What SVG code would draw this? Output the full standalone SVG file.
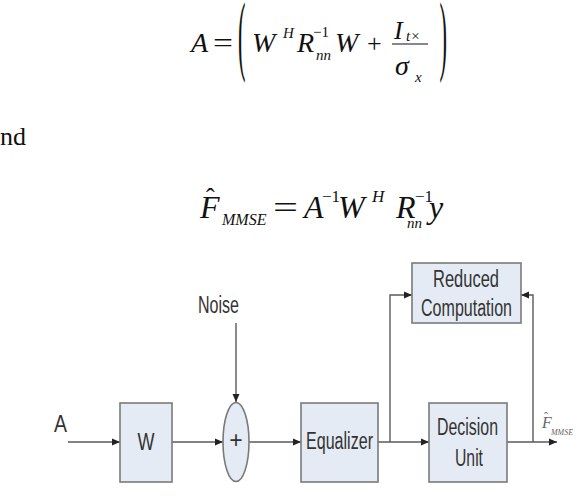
<svg xmlns="http://www.w3.org/2000/svg" width="586" height="498" viewBox="0 0 586 498">
<style>
.m{font-family:"Liberation Serif","Times New Roman",serif;font-style:italic;fill:#111}
.r{font-family:"Liberation Serif","Times New Roman",serif;fill:#111}
.box{fill:#e5ebf4;stroke:#7a7a7a;stroke-width:1.6}
.lbl{font-family:"Liberation Sans",Arial,sans-serif;font-size:23px;fill:#333;text-anchor:middle}
.con{fill:none;stroke:#5a5a5a;stroke-width:1.4}
</style>
<defs>
<marker id="ah" markerUnits="userSpaceOnUse" markerWidth="9" markerHeight="8" refX="8" refY="4" orient="auto">
<path d="M0,0.5 L8,4 L0,7.5 Z" fill="#222"/>
</marker>
</defs>
<rect width="586" height="498" fill="#fff"/>

<g id="formula1">
<text class="m" x="191" y="52" font-size="28">A</text>
<text class="r" x="213" y="52" font-size="28" textLength="20" lengthAdjust="spacingAndGlyphs">=</text>
<text class="r" transform="translate(238,64) scale(0.8,3.2)" font-size="28">(</text>
<text class="m" x="252" y="52" font-size="28">W</text>
<text class="m" x="283" y="38" font-size="15">H</text>
<text class="m" x="297" y="52" font-size="28">R</text>
<text class="r" x="313" y="37" font-size="15">−1</text>
<text class="m" x="316" y="60" font-size="15">nn</text>
<text class="m" x="335" y="52" font-size="28">W</text>
<text class="r" x="367" y="52" font-size="26">+</text>
<text class="m" x="394" y="39" font-size="26">I</text>
<text class="m" x="406" y="41" font-size="15">t×</text>
<line x1="392" y1="44" x2="428" y2="44" stroke="#111" stroke-width="1.2"/>
<text class="m" x="395" y="75" font-size="28">σ</text>
<text class="m" x="415" y="82" font-size="15">x</text>
<text class="r" transform="translate(447,64) scale(-0.8,3.2)" font-size="28">(</text>
</g>

<g id="and">
<text class="r" x="0" y="145" font-size="26">nd</text>
</g>

<g id="formula2">
<text class="m" x="200" y="218" font-size="32">F</text>
<text class="r" x="206" y="206" font-size="26">ˆ</text>
<text class="m" x="222" y="225" font-size="16">MMSE</text>
<text class="r" x="273" y="218" font-size="32" textLength="25" lengthAdjust="spacingAndGlyphs">=</text>
<text class="m" x="304" y="218" font-size="32">A</text>
<text class="r" x="322" y="202" font-size="17">−1</text>
<text class="m" x="338" y="218" font-size="32">W</text>
<text class="m" x="372" y="202" font-size="17">H</text>
<text class="m" x="396" y="218" font-size="32">R</text>
<text class="r" x="415" y="202" font-size="17">−1</text>
<text class="m" x="407" y="228" font-size="15">nn</text>
<text class="m" x="429" y="218" font-size="32">y</text>
</g>

<g id="connectors">
<path class="con" d="M68,442 H120" marker-end="url(#ah)"/>
<path class="con" d="M172,442 H223" marker-end="url(#ah)"/>
<path class="con" d="M236,323 V402" marker-end="url(#ah)"/>
<path class="con" d="M249,442 H301" marker-end="url(#ah)"/>
<path class="con" d="M378,442 H429" marker-end="url(#ah)"/>
<path class="con" d="M390,442 V295 H412" marker-end="url(#ah)"/>
<path class="con" d="M507,442 H557" marker-end="url(#ah)"/>
<path class="con" d="M533,442 V295 H521" marker-end="url(#ah)"/>
</g>

<g id="label-A">
<text class="lbl" x="60.5" y="432" textLength="13" lengthAdjust="spacingAndGlyphs">A</text>
</g>

<g id="node-W">
<rect class="box" x="120" y="403" width="52" height="79"/>
<text class="lbl" x="146" y="450" textLength="17" lengthAdjust="spacingAndGlyphs">W</text>
</g>

<g id="node-noise">
<text class="lbl" x="218.5" y="313" textLength="41" lengthAdjust="spacingAndGlyphs">Noise</text>
</g>

<g id="node-adder">
<ellipse class="box" cx="236" cy="442" rx="13" ry="39.5"/>
<text class="lbl" x="236" y="448" font-size="17">+</text>
</g>

<g id="node-equalizer">
<rect class="box" x="301" y="403" width="77" height="79"/>
<text class="lbl" x="339.5" y="449" textLength="67" lengthAdjust="spacingAndGlyphs">Equalizer</text>
</g>

<g id="node-reduced">
<rect class="box" x="412" y="263" width="109" height="60"/>
<text class="lbl" x="466" y="287" textLength="66" lengthAdjust="spacingAndGlyphs">Reduced</text>
<text class="lbl" x="466.5" y="316" textLength="91" lengthAdjust="spacingAndGlyphs">Computation</text>
</g>

<g id="node-decision">
<rect class="box" x="429" y="403" width="78" height="79"/>
<text class="lbl" x="467.5" y="435" textLength="61" lengthAdjust="spacingAndGlyphs">Decision</text>
<text class="lbl" x="469" y="466" textLength="28" lengthAdjust="spacingAndGlyphs">Unit</text>
</g>

<g id="label-output">
<text class="m" x="542" y="428" font-size="16" style="fill:#666">F</text>
<text class="r" x="544" y="421" font-size="12" style="fill:#666">ˆ</text>
<text class="m" x="551" y="435" font-size="8" style="fill:#666" textLength="22" lengthAdjust="spacingAndGlyphs">MMSE</text>
</g>
</svg>
